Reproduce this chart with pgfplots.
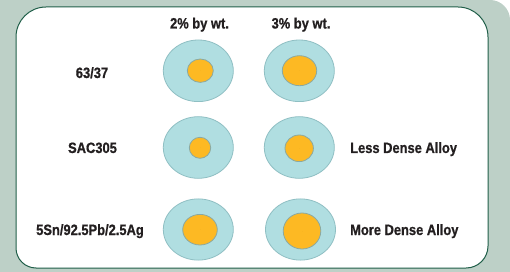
\documentclass[border=0pt]{standalone}
\usepackage{pgfplots}
\pgfplotsset{compat=1.18}
\usepackage{pgfplotstable}
\usepackage{fontspec}
\setmainfont{Liberation Sans}[FakeStretch=0.86, BoldFeatures={FakeBold=0.8}]
\definecolor{bggreen}{HTML}{BDD0C7}
\definecolor{panelline}{HTML}{1F5E48}
\definecolor{outerfill}{HTML}{B0DEE1}
\definecolor{outerline}{HTML}{8FBFC3}
\definecolor{innerfill}{HTML}{FDB923}
\definecolor{innerline}{HTML}{8AA9A2}
\definecolor{txt}{HTML}{231F20}
\pgfplotstableread{
x y rx ry
198.3 70.8 35 30.8
299.3 70.8 35 30.8
198.3 147.5 35 30.8
299.3 147.5 35 30.8
198.3 229.5 35 30.6
300.5 229.5 35 30.6
}\outer
\pgfplotstableread{
x y rx ry
200.3 70.7 13.0 11.7
299.5 70.7 17.2 15.0
200.0 147.8 10.7 10.5
299.2 148.3 14.2 13.3
200.0 229.7 17.3 15.3
302.0 231.0 18.8 18.0
}\inner
\begin{document}
\begin{tikzpicture}
\begin{axis}[
  scale only axis, width=510pt, height=272pt,
  xmin=0, xmax=510, ymin=0, ymax=272, y dir=reverse,
  hide axis, clip=false,
]
% background
\fill[bggreen] (axis cs:0,0) [rounded corners=20pt] -- (axis cs:510,0) [sharp corners] -- (axis cs:510,272) -- (axis cs:0,272) -- cycle;
% panel
\filldraw[fill=white, draw=panelline, line width=1pt]
  (axis cs:16,140) [rounded corners=30pt] -- (axis cs:16,7) -- (axis cs:488,7) [rounded corners=22pt] -- (axis cs:488,268) [rounded corners=20pt] -- (axis cs:16,268) [sharp corners] -- cycle;
% outer ellipses
\addplot[only marks, scatter, mark=*, mark size=0pt, mark options={draw=none, fill=none},
  visualization depends on={\thisrow{rx}\as\rx},
  visualization depends on={\thisrow{ry}\as\ry},
  scatter/@pre marker code/.code={\filldraw[fill=outerfill, draw=outerline, line width=0.8pt] (0,0) ellipse [x radius=\rx pt, y radius=\ry pt];},
  scatter/@post marker code/.code={}]
  table[x=x, y=y] {\outer};
% inner ellipses
\addplot[only marks, scatter, mark=*, mark size=0pt, mark options={draw=none, fill=none},
  visualization depends on={\thisrow{rx}\as\rx},
  visualization depends on={\thisrow{ry}\as\ry},
  scatter/@pre marker code/.code={\filldraw[fill=innerfill, draw=innerline, line width=0.8pt] (0,0) ellipse [x radius=\rx pt, y radius=\ry pt];},
  scatter/@post marker code/.code={}]
  table[x=x, y=y] {\inner};
\begin{scope}[every node/.style={text=txt, font=\fontsize{15}{17}\selectfont\bfseries, inner sep=0pt}]
\node[anchor=base] at (axis cs:199.5,28.5) {2\% by wt.};
\node[anchor=base] at (axis cs:301,28.5) {3\% by wt.};
\node[anchor=base] at (axis cs:92,78) {63/37};
\node[anchor=base] at (axis cs:92.5,153) {SAC305};
\node[anchor=base] at (axis cs:90,235) {5Sn/92.5Pb/2.5Ag};
\node[anchor=base west] at (axis cs:350,153) {Less Dense Alloy};
\node[anchor=base west] at (axis cs:350,235) {More Dense Alloy};
\end{scope}
\end{axis}
\end{tikzpicture}
\end{document}
